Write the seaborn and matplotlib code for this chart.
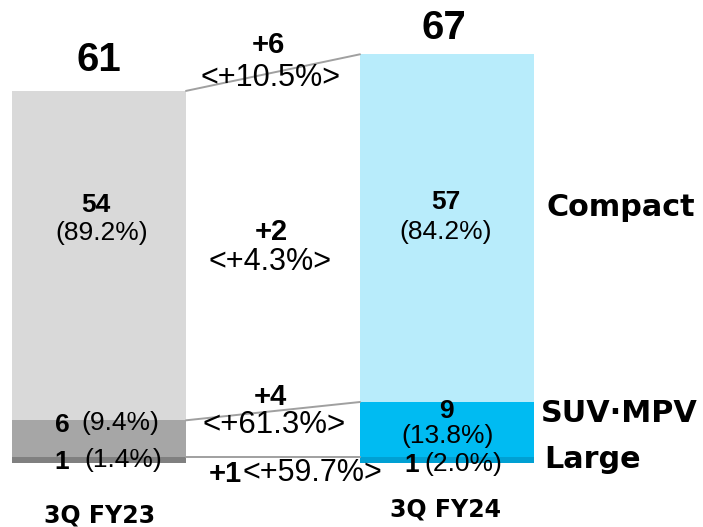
import matplotlib
matplotlib.use("Agg")
import matplotlib.pyplot as plt
from matplotlib import font_manager
import seaborn as sns
import pandas as pd

# Unit sales by body type (rounded), 3Q FY23 vs 3Q FY24
periods = ["3Q FY23", "3Q FY24"]
large = [1, 1]
suv_mpv = [6, 9]
compact = [54, 57]
totals = [61, 67]

large_share = ["1.4%", "2.0%"]
suv_share = ["9.4%", "13.8%"]
compact_share = ["89.2%", "84.2%"]

segment_names = ["Compact", "SUV·MPV", "Large"]
# year-on-year change: total, compact, SUV/MPV, large
change_abs = ["+6", "+2", "+4", "+1"]
change_pct = ["<+10.5%>", "<+4.3%>", "<+61.3%>", "<+59.7%>"]

gray_palette = ["#d9d9d9", "#a6a6a6", "#808080"]
blue_palette = ["#b8ecfb", "#00bbf2", "#00a0d3"]

W, H = 703, 527
sns.set_theme(style="white")
plt.rcParams["font.family"] = ["Liberation Sans", "DejaVu Sans"]
plt.rcParams["text.color"] = "black"

installed = {f.name for f in font_manager.fontManager.ttflist}
narrow = "Liberation Sans Narrow" if "Liberation Sans Narrow" in installed else "Liberation Sans"
share_size = 21.5 if narrow == "Liberation Sans Narrow" else 19

fig = plt.figure(figsize=(W / 100, H / 100), dpi=100)
ax = fig.add_axes([0, 0, 1, 1])

df = pd.DataFrame({
    "period": periods,
    "top": [c + s + l for c, s, l in zip(compact, suv_mpv, large)],
    "mid": [s + l for s, l in zip(suv_mpv, large)],
    "low": large,
})

layers = [("top", 0), ("mid", 1), ("low", 2)]
for col, i in layers:
    sns.barplot(data=df, x="period", y=col, hue="period",
                palette={periods[0]: gray_palette[i], periods[1]: blue_palette[i]},
                saturation=1, width=0.5, errorbar=None, linewidth=0,
                legend=False, ax=ax)

# pixel geometry: bar centres at 99 / 447 px, baseline at 463 px, 6.1 px per unit
x_scale = 348.0
y_scale = 6.1
ax.set_xlim(-99 / x_scale, (W - 99) / x_scale)
ax.set_ylim(-(H - 463) / y_scale, 463 / y_scale)
ax.axis("off")


def P(x, y):
    return (x / W, 1 - y / H)


tf = fig.transFigure

# connector lines between the bars
line_kw = dict(color="#a0a0a0", lw=1.4, zorder=1)
for a, b in [(totals[0], totals[1]),
             (suv_mpv[0] + large[0], suv_mpv[1] + large[1]),
             (large[0], large[1])]:
    ax.plot([0.25, 0.75], [a, b], **line_kw)

txt = dict(transform=tf, va="center", color="black")
share = dict(transform=tf, va="center", color="black", family=narrow,
             fontsize=share_size)

# totals on top of bars
ax.text(*P(99, 60), str(totals[0]), ha="center", fontsize=29,
        fontweight="bold", **txt)
ax.text(*P(444, 28), str(totals[1]), ha="center", fontsize=29,
        fontweight="bold", **txt)

# compact segment labels
ax.text(*P(96, 205), str(compact[0]), ha="center", fontsize=19,
        fontweight="bold", **txt)
ax.text(*P(102, 233), f"({compact_share[0]})", ha="center", **share)
ax.text(*P(446, 202), str(compact[1]), ha="center", fontsize=19,
        fontweight="bold", **txt)
ax.text(*P(446, 232), f"({compact_share[1]})", ha="center", **share)

# SUV/MPV segment labels
ax.text(*P(70, 425), str(suv_mpv[0]), ha="right", fontsize=19,
        fontweight="bold", **txt)
ax.text(*P(81, 423), f"({suv_share[0]})", ha="left", **share)
ax.text(*P(446, 411), str(suv_mpv[1]), ha="center", fontsize=19,
        fontweight="bold", **txt)
ax.text(*P(448, 436), f"({suv_share[1]})", ha="center", **share)

# large segment labels
ax.text(*P(69, 462), str(large[0]), ha="right", fontsize=19,
        fontweight="bold", **txt)
ax.text(*P(84, 460), f"({large_share[0]})", ha="left", **share)
ax.text(*P(419, 465), str(large[1]), ha="right", fontsize=19,
        fontweight="bold", **txt)
ax.text(*P(424, 464), f"({large_share[1]})", ha="left", **share)

# year-on-year changes
ax.text(*P(268, 45), change_abs[0], ha="center", fontsize=21,
        fontweight="bold", **txt)
ax.text(*P(271, 78), change_pct[0], ha="center", fontsize=22, **txt)
ax.text(*P(271, 232), change_abs[1], ha="center", fontsize=21,
        fontweight="bold", **txt)
ax.text(*P(270, 262), change_pct[1], ha="center", fontsize=22, **txt)
ax.text(*P(270, 397), change_abs[2], ha="center", fontsize=21,
        fontweight="bold", **txt)
ax.text(*P(274, 425), change_pct[2], ha="center", fontsize=22.5, **txt)
ax.text(*P(242, 474), change_abs[3], ha="right", fontsize=21,
        fontweight="bold", **txt)
ax.text(*P(242, 473), change_pct[3], ha="left", fontsize=22, **txt)

# segment names
seg_x = [546, 541, 544]
seg_y = [207, 413, 460]
for name, x, y in zip(segment_names, seg_x, seg_y):
    ax.text(*P(x, y), name, ha="left", fontsize=21.8, fontweight="bold",
            family="DejaVu Sans", **txt)

# period names
ax.text(*P(100, 516), periods[0], ha="center", fontsize=17, fontweight="bold",
        family="DejaVu Sans", **txt)
ax.text(*P(446, 510), periods[1], ha="center", fontsize=17, fontweight="bold",
        family="DejaVu Sans", **txt)

fig.savefig("out.png", dpi=100)
